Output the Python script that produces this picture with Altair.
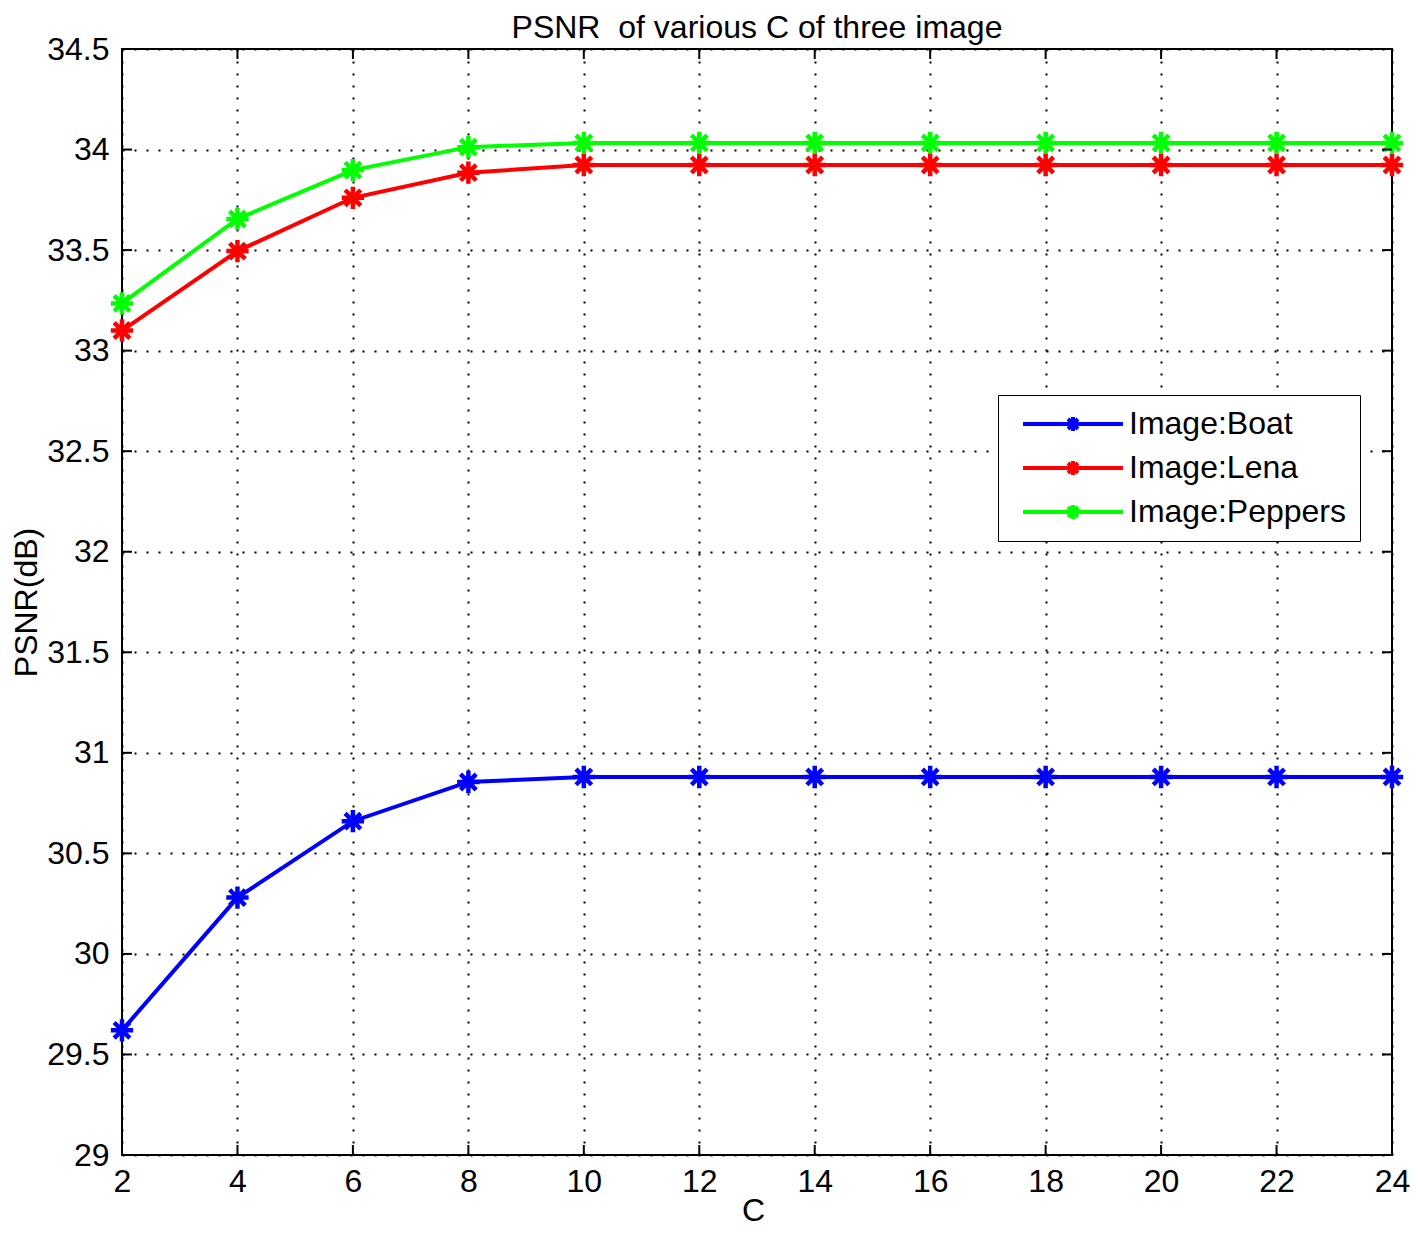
import altair as alt
import pandas as pd

C_values = [2, 4, 6, 8, 10, 12, 14, 16, 18, 20, 22, 24]
boat = [29.62, 30.28, 30.66, 30.855, 30.88, 30.88, 30.88, 30.88, 30.88, 30.88, 30.88, 30.88]
lena = [33.10, 33.495, 33.76, 33.885, 33.923, 33.923, 33.923, 33.923, 33.923, 33.923, 33.923, 33.923]
peppers = [33.235, 33.655, 33.898, 34.012, 34.033, 34.033, 34.033, 34.033, 34.033, 34.033, 34.033, 34.033]
series_names = ["Image:Boat", "Image:Lena", "Image:Peppers"]
series_colors = ["#0000FF", "#FF0000", "#00FF00"]
x_ticks = [2, 4, 6, 8, 10, 12, 14, 16, 18, 20, 22, 24]
y_ticks = [29, 29.5, 30, 30.5, 31, 31.5, 32, 32.5, 33, 33.5, 34, 34.5]

rows = []
for name, vals in zip(series_names, [boat, lena, peppers]):
    for c, v in zip(C_values, vals):
        rows.append({"C": c, "PSNR": v, "series": name})
df = pd.DataFrame(rows)

W, H = 1270, 1106
FONT = "Liberation Sans"

xs = alt.Scale(domain=[2, 24], nice=False, zero=False)
ys = alt.Scale(domain=[29, 34.5], nice=False, zero=False)

asterisk = "M0,-1L0,1M-1,0L1,0M-0.7,-0.7L0.7,0.7M-0.7,0.7L0.7,-0.7"
legend_sym = "M-5,0L5,0M0,-0.7L0,0.7M-0.7,0L0.7,0M-0.5,-0.5L0.5,0.5M-0.5,0.5L0.5,-0.5"

color = alt.Color(
    "series:N",
    scale=alt.Scale(domain=series_names, range=series_colors),
    legend=alt.Legend(
        title=None, orient="none", legendX=876, legendY=346,
        symbolType=legend_sym, symbolSize=400, symbolStrokeWidth=4,
        symbolOffset=46,
        labelFont=FONT, labelFontSize=32, labelColor="black", labelLimit=600,
        fillColor="white", strokeColor="black", padding=13,
        rowPadding=12, labelOffset=40,
    ),
)

x_axis = alt.Axis(values=x_ticks, title="C", ticks=False, labelPadding=11,
                  titleBaseline="alphabetic", titleY=65, titleX=W / 2 - 4,
                  grid=True, format="d", labelFlush=False)
y_axis = alt.Axis(values=y_ticks, title="PSNR(dB)", ticks=False, labelPadding=13,
                  titleBaseline="alphabetic", titleX=-86, titleY=H / 2,
                  grid=True, labelFlush=False,
                  labelExpr="format(datum.value, '.3~f')")

lines = alt.Chart(df).mark_line(strokeWidth=4).encode(
    x=alt.X("C:Q", scale=xs, axis=x_axis),
    y=alt.Y("PSNR:Q", scale=ys, axis=y_axis),
    color=color,
)
points = alt.Chart(df).mark_point(shape=asterisk, size=500, strokeWidth=4.5, filled=False, opacity=1).encode(
    x=alt.X("C:Q", scale=xs),
    y=alt.Y("PSNR:Q", scale=ys),
    color=alt.Color("series:N", scale=alt.Scale(domain=series_names, range=series_colors), legend=None),
)

xt = pd.DataFrame({"C": x_ticks})
yt = pd.DataFrame({"PSNR": y_ticks})
tick_b = alt.Chart(xt).mark_rule(color="black", strokeWidth=2).encode(
    x=alt.X("C:Q", scale=xs), y=alt.value(H - 10), y2=alt.value(H))
tick_t = alt.Chart(xt).mark_rule(color="black", strokeWidth=2).encode(
    x=alt.X("C:Q", scale=xs), y=alt.value(0), y2=alt.value(10))
tick_l = alt.Chart(yt).mark_rule(color="black", strokeWidth=2).encode(
    y=alt.Y("PSNR:Q", scale=ys), x=alt.value(0), x2=alt.value(10))
tick_r = alt.Chart(yt).mark_rule(color="black", strokeWidth=2).encode(
    y=alt.Y("PSNR:Q", scale=ys), x=alt.value(W - 10), x2=alt.value(W))

chart = alt.layer(lines, points, tick_b, tick_t, tick_l, tick_r).properties(
    width=W, height=H,
    title=alt.Title("PSNR\u00a0 of various C of three image", font=FONT, fontSize=32,
                    fontWeight="normal", color="black", offset=-12),
    autosize=alt.AutoSizeParams(type="none"),
    padding={"left": 114, "top": 41, "right": 18, "bottom": 73},
).configure(background="white").configure_view(stroke="black", strokeWidth=2).configure_axis(
    labelFont=FONT, labelFontSize=32, labelColor="black",
    titleFont=FONT, titleFontSize=32, titleColor="black", titleFontWeight="normal",
    domain=False, gridColor="black", gridWidth=2, gridDash=[2, 10], gridOpacity=1,
)

chart.save("out.html", embed_options={"renderer": "svg", "actions": False})
